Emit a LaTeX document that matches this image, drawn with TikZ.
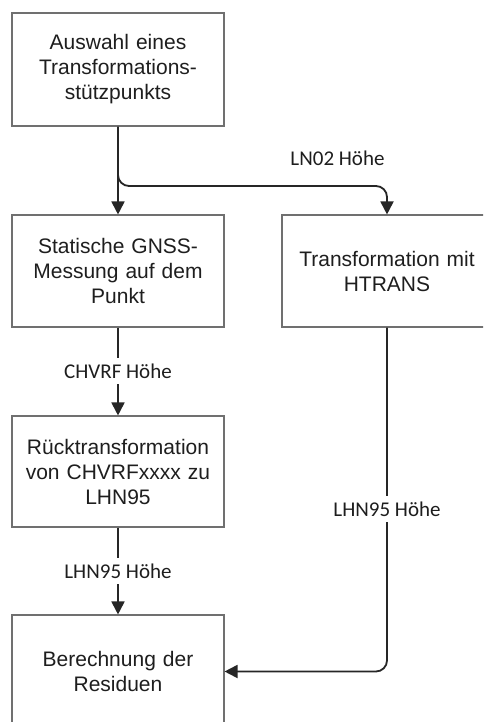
\documentclass[tikz,border=0pt]{standalone}
\usepackage{fontspec}
\setmainfont{Liberation Sans}
\newfontfamily\lblfont{Carlito}
\usetikzlibrary{arrows.meta}
\definecolor{boxgray}{HTML}{707070}
\definecolor{ink}{HTML}{262626}
\definecolor{txt}{HTML}{1E1E1E}
\tikzset{
  stepbox/.style={draw=boxgray, line width=1.1pt, fill=white, minimum width=212pt,
    inner sep=0pt, text width=205pt, align=center, text=txt,
    font=\fontsize{21}{25}\selectfont},
  conn/.style={draw=ink, line width=1.8pt, -{Triangle[length=13pt,width=13pt]}},
  plain/.style={draw=ink, line width=1.8pt},
  lbl/.style={font=\lblfont\fontsize{21}{25}\selectfont, text=txt, fill=white,
    inner xsep=1pt, inner ysep=4pt, text height=16pt, text depth=2pt, anchor=base}
}
\begin{document}
\begin{tikzpicture}[x=1pt,y=-1pt]
\useasboundingbox (0,0) rectangle (483,722);
\clip (0,0) rectangle (483,722);
\fill[white] (0,0) rectangle (483,722);
% boxes
\node[stepbox, minimum height=113pt] (b1) at (118,69.5) {Auswahl eines\\Transformations-\\stützpunkts};
\node[stepbox, minimum height=112pt] (b2) at (118,271) {Statische GNSS-\\Messung auf dem\\Punkt};
\node[stepbox, minimum height=111pt] (b3) at (118,471.5) {Rücktransformation\\von CHVRFxxxx zu\\LHN95};
\node[stepbox, minimum height=113pt] (b4) at (118,671.5) {Berechnung der\\Residuen};
\node[stepbox, minimum width=210pt, minimum height=112pt] (br) at (387,271) {Transformation mit\\HTRANS};
% connectors
\coordinate (j) at (118,186);
\draw[conn] (b1.south) -- (b2.north);
\draw[conn, rounded corners=11pt] (b1.south) -- (j) -| (br.north);
\draw[conn] (b2.south) -- (b3.north);
\draw[conn] (b3.south) -- (b4.north);
\draw[conn, rounded corners=11pt] (br.south) |- (b4.east);
% labels
\node[font=\lblfont\fontsize{21}{25}\selectfont, text=txt, anchor=base, inner sep=0pt] (l1) at (337.5,165) {LN02 Höhe};
\node[lbl] (l2) at (118,378) {CHVRF Höhe};
\node[lbl] (l3) at (118,578) {LHN95 Höhe};
\node[lbl] (l4) at (387,516) {LHN95 Höhe};
\end{tikzpicture}
\end{document}
